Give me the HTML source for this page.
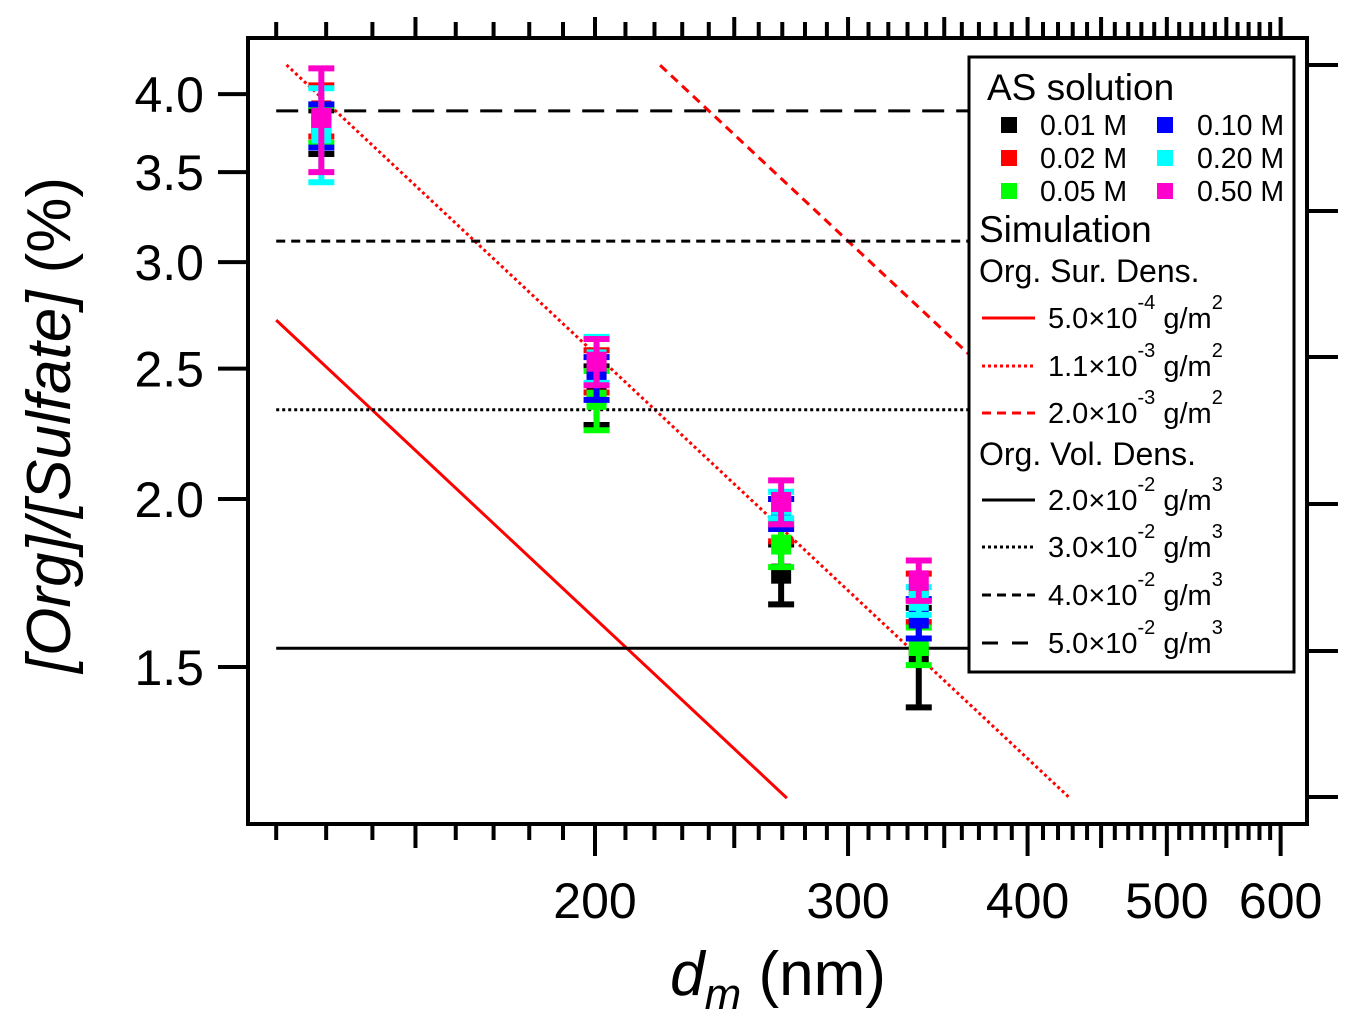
<!DOCTYPE html>
<html><head><meta charset="utf-8"><style>
body{margin:0;background:#fff;}
svg{display:block;font-family:"Liberation Sans",Arial,sans-serif;}
</style></head><body>
<svg id="chart" width="1356" height="1028" viewBox="0 0 1356 1028" xmlns="http://www.w3.org/2000/svg">
<defs><clipPath id="plotclip"><rect x="248" y="38" width="1059" height="786"/></clipPath></defs>
<g id="axes"></g>
<g id="lines" clip-path="url(#plotclip)"></g>
<g id="points" clip-path="url(#plotclip)"></g>
<g id="legend">
  <rect x="969" y="57" width="325" height="615" fill="#fff" stroke="#000" stroke-width="3"/>
  <text x="987" y="100" font-size="37">AS solution</text>
  <rect x="1001" y="117" width="16" height="16" fill="#000"/><text x="1040" y="135" font-size="28.5">0.01 M</text>
  <rect x="1001" y="150" width="16" height="16" fill="#f00"/><text x="1040" y="168" font-size="28.5">0.02 M</text>
  <rect x="1001" y="183" width="16" height="16" fill="#0f0"/><text x="1040" y="201" font-size="28.5">0.05 M</text>
  <rect x="1157" y="117" width="16" height="16" fill="#00f"/><text x="1197" y="135" font-size="28.5">0.10 M</text>
  <rect x="1157" y="150" width="16" height="16" fill="#0ff"/><text x="1197" y="168" font-size="28.5">0.20 M</text>
  <rect x="1157" y="183" width="16" height="16" fill="#f0c"/><text x="1197" y="201" font-size="28.5">0.50 M</text>
  <text x="979" y="242" font-size="37">Simulation</text>
  <text x="979" y="282" font-size="32">Org. Sur. Dens.</text>
  <line x1="982" y1="318" x2="1035" y2="318" stroke="#f00" stroke-width="3"/>
  <text x="1048" y="328" font-size="29">5.0×10<tspan dy="-19" font-size="20">-4</tspan><tspan dy="19"> g/m</tspan><tspan dy="-19" font-size="20">2</tspan></text>
  <line x1="982" y1="366" x2="1035" y2="366" stroke="#f00" stroke-width="3" stroke-dasharray="3 3"/>
  <text x="1048" y="376" font-size="29">1.1×10<tspan dy="-19" font-size="20">-3</tspan><tspan dy="19"> g/m</tspan><tspan dy="-19" font-size="20">2</tspan></text>
  <line x1="982" y1="413" x2="1035" y2="413" stroke="#f00" stroke-width="3" stroke-dasharray="9 6"/>
  <text x="1048" y="423" font-size="29">2.0×10<tspan dy="-19" font-size="20">-3</tspan><tspan dy="19"> g/m</tspan><tspan dy="-19" font-size="20">2</tspan></text>
  <text x="979" y="465" font-size="32">Org. Vol. Dens.</text>
  <line x1="982" y1="500" x2="1035" y2="500" stroke="#000" stroke-width="3"/>
  <text x="1048" y="510" font-size="29">2.0×10<tspan dy="-19" font-size="20">-2</tspan><tspan dy="19"> g/m</tspan><tspan dy="-19" font-size="20">3</tspan></text>
  <line x1="982" y1="547" x2="1035" y2="547" stroke="#000" stroke-width="3" stroke-dasharray="3 3"/>
  <text x="1048" y="557" font-size="29">3.0×10<tspan dy="-19" font-size="20">-2</tspan><tspan dy="19"> g/m</tspan><tspan dy="-19" font-size="20">3</tspan></text>
  <line x1="982" y1="595" x2="1035" y2="595" stroke="#000" stroke-width="3" stroke-dasharray="9 6"/>
  <text x="1048" y="605" font-size="29">4.0×10<tspan dy="-19" font-size="20">-2</tspan><tspan dy="19"> g/m</tspan><tspan dy="-19" font-size="20">3</tspan></text>
  <line x1="982" y1="643" x2="1035" y2="643" stroke="#000" stroke-width="3" stroke-dasharray="16 14"/>
  <text x="1048" y="653" font-size="29">5.0×10<tspan dy="-19" font-size="20">-2</tspan><tspan dy="19"> g/m</tspan><tspan dy="-19" font-size="20">3</tspan></text>
</g>
<text x="778" y="995" font-size="62" text-anchor="middle"><tspan font-style="italic">d</tspan><tspan font-style="italic" font-size="44" dy="14">m</tspan><tspan dy="-14"> (nm)</tspan></text>
<text transform="translate(70,425) rotate(-90)" font-size="62" text-anchor="middle"><tspan font-style="italic">[Org]/[Sulfate]</tspan> (%)</text>
</svg>
<script>
// ---- data ----
const xTicksMajor = [200, 300, 400, 500, 600];
const xTickLabels = ["200", "300", "400", "500", "600"];
const yTickValues = [1.5, 2.0, 2.5, 3.0, 3.5, 4.0];
const yTickLabels = ["1.5", "2.0", "2.5", "3.0", "3.5", "4.0"];
const sizes = [129, 200.5, 269.5, 336];
const seriesNames = ["0.01 M", "0.02 M", "0.05 M", "0.10 M", "0.20 M", "0.50 M"];
const seriesColors = ["#000", "#f00", "#0f0", "#00f", "#0ff", "#f0c"];
const val001 = [3.75, 2.39, 1.76, 1.53];
const err001 = [0.14, 0.12, 0.09, 0.13];
const val002 = [3.89, 2.49, 1.93, 1.69];
const err002 = [0.17, 0.09, 0.07, 0.07];
const val005 = [3.80, 2.37, 1.85, 1.555];
const err005 = [0.12, 0.12, 0.07, 0.05];
const val010 = [3.79, 2.46, 1.95, 1.63];
const err010 = [0.14, 0.09, 0.05, 0.055];
const val020 = [3.74, 2.54, 1.98, 1.68];
const err020 = [0.30, 0.10, 0.045, 0.04];
const val050 = [3.84, 2.53, 1.99, 1.74];
const err050 = [0.34, 0.10, 0.075, 0.06];
// Surface density sims: y = C / d
const surfCoef = [326, 513, 933];
const surfDash = ["", "3 3", "9 6"];
const surfRangeD = [[120, 272], [122, 428], [222, 364]];
// Volume density sims: constant
const volVal = [1.549, 2.33, 3.11, 3.887];
const volDash = ["", "3 3", "9 6", "22 12"];
const volRangeD = [120, 364];
const rightTickY = [65, 211, 357, 504, 651, 797];

// ---- axis functions ----
const X0 = 595, XS = 1437, Y0 = 499, YS = 1345;
const xs = d => X0 + XS * Math.log10(d / 200);
const ys = v => Y0 - YS * Math.log10(v / 2);
const NS = "http://www.w3.org/2000/svg";
function mk(tag, attrs, parent) {
  const e = document.createElementNS(NS, tag);
  for (const k in attrs) e.setAttribute(k, attrs[k]);
  parent.appendChild(e);
  return e;
}
const axes = document.getElementById("axes");
const lines = document.getElementById("lines");
const pts = document.getElementById("points");

const fr = mk("rect", {x: 248, y: 38, width: 1059, height: 786, fill: "none", stroke: "#000", "stroke-width": 4}, axes);



for (let d = 120; d <= 600; d += 10) {
  const x = xs(d);
  const major = d % 100 === 0, mid = d % 50 === 0 && !major;
  const lb = major ? 32 : mid ? 24 : 16;
  const lt = (major || mid) ? 21 : 16;
  const t1 = mk("line", {x1: x, y1: 824, x2: x, y2: 824 + lb, stroke: "#000", "stroke-width": 4}, axes);
  
  
  const t2 = mk("line", {x1: x, y1: 38, x2: x, y2: 38 - lt, stroke: "#000", "stroke-width": 4}, axes);
  
  
}
xTicksMajor.forEach((d, i) => {
  const t = mk("text", {x: xs(d), y: 918, "font-size": 50, "text-anchor": "middle"}, axes);
  t.textContent = xTickLabels[i];
  
  
});
yTickValues.forEach((v, i) => {
  const y = ys(v);
  const l = mk("line", {x1: 218, y1: y, x2: 248, y2: y, stroke: "#000", "stroke-width": 4}, axes);
  
  
  const t = mk("text", {x: 204, y: y + 18, "font-size": 50, "text-anchor": "end"}, axes);
  t.textContent = yTickLabels[i];
  
  
});
rightTickY.forEach(y => {
  const l = mk("line", {x1: 1307, y1: y, x2: 1338, y2: y, stroke: "#000", "stroke-width": 4}, axes);
  
  
});

surfCoef.forEach((C, i) => {
  const [a, b] = surfRangeD[i];
  const attrs = {x1: xs(a), y1: ys(C / a), x2: xs(b), y2: ys(C / b), stroke: "#f00", "stroke-width": 3};
  if (surfDash[i]) attrs["stroke-dasharray"] = surfDash[i];
  const l = mk("line", attrs, lines);
  
  
});
volVal.forEach((v, i) => {
  const attrs = {x1: xs(volRangeD[0]), y1: ys(v), x2: xs(volRangeD[1]), y2: ys(v), stroke: "#000", "stroke-width": 3};
  if (volDash[i]) attrs["stroke-dasharray"] = volDash[i];
  const l = mk("line", attrs, lines);
  
  
});

const allVals = [val001, val002, val005, val010, val020, val050];
const allErrs = [err001, err002, err005, err010, err020, err050];
allVals.forEach((vals, s) => {
  const g = mk("g", {fill: seriesColors[s], stroke: seriesColors[s]}, pts);
  
  
  vals.forEach((v, i) => {
    const x = xs(sizes[i]);
    const yt = ys(v + allErrs[s][i]), yb = ys(v - allErrs[s][i]), y = ys(v);
    mk("line", {x1: x, y1: yt, x2: x, y2: yb, "stroke-width": 6}, g);
    mk("line", {x1: x - 13, y1: yt, x2: x + 13, y2: yt, "stroke-width": 6}, g);
    mk("line", {x1: x - 13, y1: yb, x2: x + 13, y2: yb, "stroke-width": 6}, g);
    const r = mk("rect", {x: x - 10, y: y - 10, width: 20, height: 20, stroke: "none"}, g);
    
    
  });
});
</script>
</body></html>
